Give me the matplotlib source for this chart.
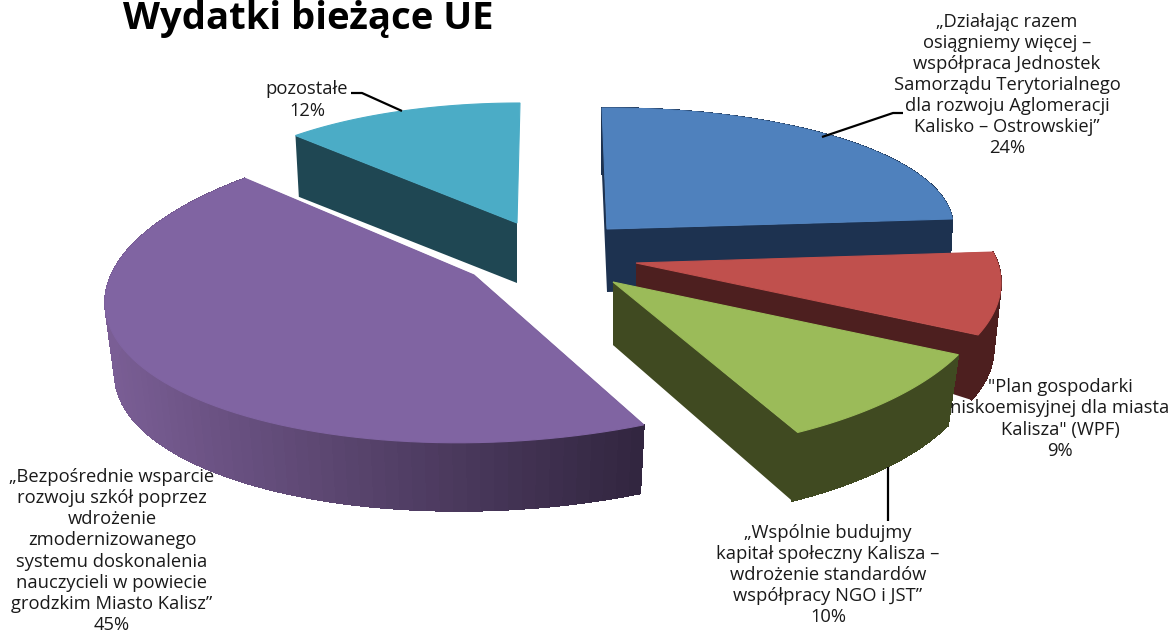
import numpy as np
import matplotlib
matplotlib.use("Agg")
import matplotlib.pyplot as plt
from matplotlib.colors import to_rgb

title = "Wydatki bieżące UE"

# values in clockwise order, starting at the top of the pie
names = [
    "„Działając razem\nosiągniemy więcej –\nwspółpraca Jednostek\nSamorządu Terytorialnego\ndla rozwoju Aglomeracji\nKalisko – Ostrowskiej”",
    "\"Plan gospodarki\nniskoemisyjnej dla miasta\nKalisza\" (WPF)",
    "„Wspólnie budujmy\nkapitał społeczny Kalisza –\nwdrożenie standardów\nwspółpracy NGO i JST”",
    "„Bezpośrednie wsparcie\nrozwoju szkół poprzez\nwdrożenie\nzmodernizowanego\nsystemu doskonalenia\nnauczycieli w powiecie\ngrodzkim Miasto Kalisz”",
    "pozostałe",
]
shares = [24, 9, 10, 45, 12]

top_colors = ["#4F81BD", "#C0504D", "#9BBB59", "#8064A2", "#4BACC6"]
wall_left = ["#1D3250", "#4D1F1F", "#404A21", "#7A5E95", "#1F4753"]
wall_right = ["#1D3250", "#4D1F1F", "#404A21", "#322640", "#1F4753"]

# hand fitted projection of each exploded slice, in pixels
apex = [(607, 229), (636, 263), (613, 282), (474, 275), (517, 223)]
center = [(602, 229), (636, 283), (613, 282), (497, 287), (520, 223)]
radius_x = [351, 365, 381, 392, 328]
radius_y = [121, 149, 172, 155, 120]
shear = [-0.007, 0, 0, -0.04, 0]
rotation = [0, -8.4, -3.8, 3.2, 0]
depth = [65, 66, 73, 72, 60]
apex_depth = [63, 30, 63, 70, 60]
bottom_scale = [0.99, 0.98, 0.97, 0.975, 0.985]
back_walls = [True, True, True, True, False]
draw_order = [4, 3, 0, 1, 2]

label_pos = [(1007, 85), (1060, 419), (828, 575), (112, 551), (307, 100)]
leaders = [
    ([822, 893, 903], [137, 113, 113]),
    None,
    ([888, 888], [467, 521]),
    None,
    ([351, 362, 402], [93, 93, 111]),
]


def rim_points(i, start, stop, n=80):
    theta = np.radians(np.linspace(start, stop, n) + rotation[i])
    dx = radius_x[i] * np.sin(theta)
    dy = -radius_y[i] * np.cos(theta) + shear[i] * dx
    return dx, dy


def draw_slice(ax, i, start, stop):
    cx, cy = center[i]
    ax_, ay_ = apex[i]
    dx, dy = rim_points(i, start, stop)
    top_x = cx + dx
    top_y = cy + dy
    bot_x = cx + bottom_scale[i] * dx
    bot_y = cy + bottom_scale[i] * dy + depth[i]

    # radial walls first, the top face hides whatever is behind it
    for k in [0, -1]:
        if k == -1 and not back_walls[i]:
            continue
        ax.fill([top_x[k], ax_, ax_, bot_x[k]],
                [top_y[k], ay_, ay_ + apex_depth[i], bot_y[k]],
                facecolor=wall_right[i] if k == 0 else wall_left[i], lw=0)

    # outer wall, small quads so the purple one can carry its gradient
    if back_walls[i]:
        c0 = np.array(to_rgb(wall_left[i]))
        c1 = np.array(to_rgb(wall_right[i]))
        span = top_x.max() - top_x.min()
        for k in range(len(top_x) - 1):
            frac = (top_x[k] - top_x.min()) / span
            col = tuple(c0 + (c1 - c0) * frac)
            # no antialiasing here, otherwise the quads show seams
            ax.fill([top_x[k], top_x[k + 1], bot_x[k + 1], bot_x[k]],
                    [top_y[k], top_y[k + 1], bot_y[k + 1], bot_y[k]],
                    facecolor=col, edgecolor=col, lw=0.6, antialiased=False)

    ax.fill(np.r_[ax_, top_x], np.r_[ay_, top_y], color=top_colors[i], lw=0.8)


fig = plt.figure(figsize=(11.73, 6.32), dpi=100)
ax = fig.add_axes([0, 0, 1, 1])
ax.set_xlim(0, 1173)
ax.set_ylim(632, 0)
ax.axis("off")

angles = np.r_[0, np.cumsum(shares)] * 3.6
for i in draw_order:
    draw_slice(ax, i, angles[i], angles[i + 1])

for line in leaders:
    if line is not None:
        ax.plot(line[0], line[1], color="black", lw=1.6, solid_capstyle="butt")

for name, share, (x, y) in zip(names, shares, label_pos):
    ax.text(x, y, f"{name}\n{share}%", ha="center", va="center", family="Open Sans",
            fontsize=13.2, color="#1a1a1a", linespacing=1.22)

ax.text(308, 19, title, ha="center", va="center", family="Open Sans",
        fontweight="bold", fontsize=27.5, color="black")

fig.savefig("out.png", dpi=100)
plt.close(fig)
